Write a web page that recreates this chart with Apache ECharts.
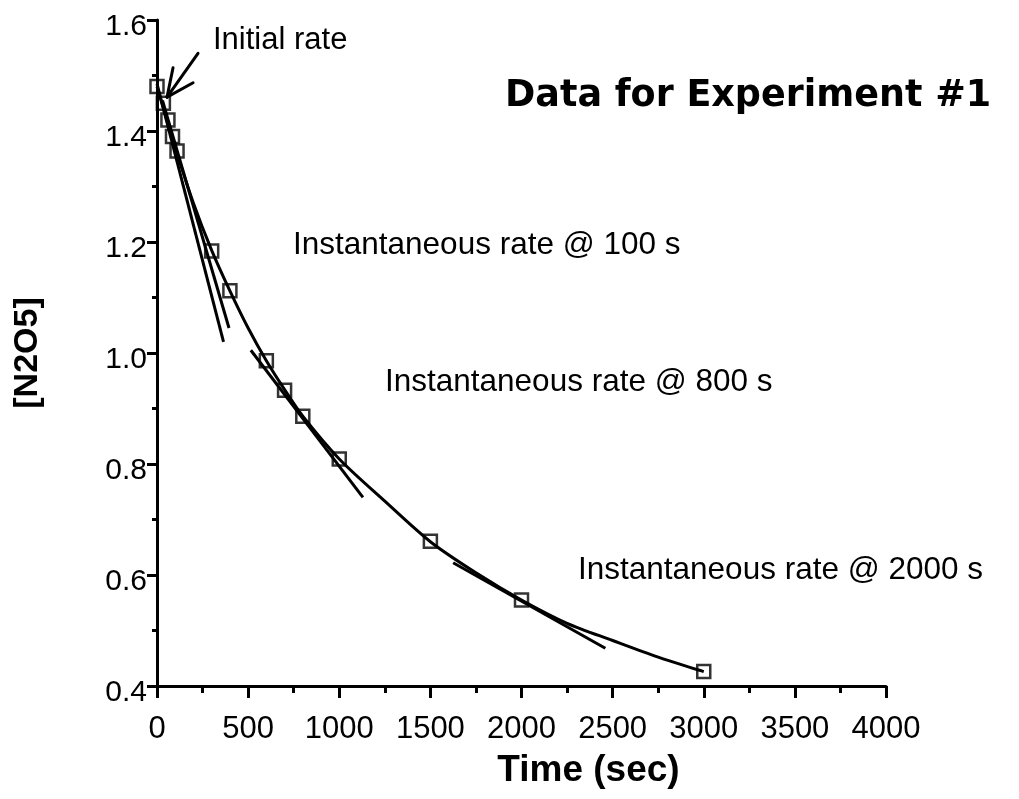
<!DOCTYPE html>
<html>
<head>
<meta charset="utf-8">
<script src="https://cdn.jsdelivr.net/npm/echarts@6/dist/echarts.min.js"></script>
<style>
  html, body { margin: 0; padding: 0; background: #fff; }
  #chart { width: 1019px; height: 799px; }
</style>
</head>
<body>
<div id="chart"></div>
<script>
const mychart = echarts.init(document.getElementById('chart'))

// measured points (time s, [N2O5])
var times = [0, 35, 60, 85, 110, 300, 400, 600, 700, 800, 1000, 1500, 2000, 3000]
var conc = [1.48, 1.45, 1.42, 1.39, 1.364, 1.184, 1.112, 0.986, 0.933, 0.886, 0.809, 0.661, 0.555, 0.426]

// fitted curve
var curveTimes = [0, 100, 200, 300, 400, 500, 600, 700, 800, 1000, 1250, 1500, 1750, 2000, 2250, 2500, 2750, 3000]
var curveConc = [1.48, 1.37, 1.27, 1.185, 1.112, 1.045, 0.986, 0.934, 0.886, 0.809, 0.733, 0.66, 0.604, 0.555, 0.513, 0.482, 0.452, 0.426]

// tangent lines [[t0, c0], [t1, c1]]
var tangentInitial = [[0, 1.485], [365, 1.02]]
var tangent100 = [[30, 1.455], [395, 1.045]]
var tangent800 = [[515, 1.005], [1130, 0.74]]
var tangent2000 = [[1625, 0.622], [2460, 0.468]]

// arrow pointing at the initial rate: tail, tip, and the two barb ends
var arrowTail = [225, 1.54]
var arrowTip = [55, 1.461]
var arrowBarbA = [88, 1.514]
var arrowBarbB = [198, 1.487]

var font = '"Liberation Sans", Arial, Helvetica, sans-serif'

function pairs(xs, ys) {
    var res = []
    for (var i = 0; i < xs.length; i++) res.push([xs[i], ys[i]])
    return res
}

function tangentSeries(d) {
    return {
        type: 'line',
        data: d,
        showSymbol: false,
        symbol: 'none',
        lineStyle: { color: '#000', width: 3 },
        silent: true,
        z: 3
    }
}

mychart.setOption({
    animation: false,
    backgroundColor: '#fff',
    grid: { left: 157, top: 20, right: 133, bottom: 113, containLabel: false, outerBoundsMode: 'none' },
    xAxis: {
        type: 'value',
        min: 0,
        max: 4000,
        interval: 500,
        name: 'Time (sec)',
        nameLocation: 'middle',
        nameGap: 66,
        nameTextStyle: {
            fontFamily: font, fontWeight: 'bold', fontSize: 37, color: '#000',
            padding: [0, 0, 0, 134]
        },
        axisLine: { lineStyle: { color: '#000', width: 3 } },
        axisTick: { length: 12, lineStyle: { color: '#000', width: 3 } },
        minorTick: { show: true, splitNumber: 2, length: 7, lineStyle: { color: '#000', width: 3 } },
        axisLabel: {
            fontFamily: font, fontSize: 31, color: '#000', margin: 28,
            formatter: function (v) { return String(v) }
        },
        splitLine: { show: false }
    },
    yAxis: {
        type: 'value',
        min: 0.4,
        max: 1.6,
        interval: 0.2,
        name: '[N2O5]',
        nameLocation: 'middle',
        nameRotate: 90,
        nameGap: 112,
        nameTextStyle: { fontFamily: font, fontWeight: 'bold', fontSize: 34, color: '#000' },
        axisLine: { lineStyle: { color: '#000', width: 3 } },
        axisTick: { length: 10, lineStyle: { color: '#000', width: 3 } },
        minorTick: { show: true, splitNumber: 2, length: 5, lineStyle: { color: '#000', width: 3 } },
        axisLabel: {
            fontFamily: font, fontSize: 30, color: '#000', margin: 10,
            verticalAlign: 'top', lineHeight: 14,
            formatter: function (v) { return v.toFixed(1) }
        },
        splitLine: { show: false }
    },
    graphic: [
        { type: 'text', x: 505, y: 97, style: { text: 'Data for Experiment #1', font: 'bold 36.5px "DejaVu Sans", sans-serif', fill: '#000', verticalAlign: 'middle' } },
        { type: 'text', x: 213, y: 40, style: { text: 'Initial rate', font: '31px ' + font, fill: '#000', verticalAlign: 'middle' } },
        { type: 'text', x: 293, y: 245, style: { text: 'Instantaneous rate @ 100 s', font: '31.5px ' + font, fill: '#000', verticalAlign: 'middle' } },
        { type: 'text', x: 385, y: 382, style: { text: 'Instantaneous rate @ 800 s', font: '31.5px ' + font, fill: '#000', verticalAlign: 'middle' } },
        { type: 'text', x: 578, y: 570, style: { text: 'Instantaneous rate @ 2000 s', font: '31.5px ' + font, fill: '#000', verticalAlign: 'middle' } }
    ],
    series: [
        {
            name: 'fit',
            type: 'line',
            data: pairs(curveTimes, curveConc),
            smooth: 0.3,
            showSymbol: false,
            symbol: 'none',
            lineStyle: { color: '#000', width: 3 },
            silent: true,
            z: 2,
            markLine: {
                silent: true,
                symbol: ['none', 'none'],
                label: { show: false },
                lineStyle: { color: '#000', width: 3, type: 'solid', cap: 'round' },
                data: [
                    [{ coord: arrowTail }, { coord: arrowTip }],
                    [{ coord: arrowBarbA }, { coord: arrowTip }],
                    [{ coord: arrowBarbB }, { coord: arrowTip }]
                ]
            }
        },
        tangentSeries(tangentInitial),
        tangentSeries(tangent100),
        tangentSeries(tangent800),
        tangentSeries(tangent2000),
        {
            name: 'data',
            type: 'scatter',
            data: pairs(times, conc),
            symbol: 'rect',
            symbolSize: 13,
            itemStyle: { color: 'rgba(0,0,0,0)', borderColor: '#000', borderWidth: 2.5 },
            z: 5
        }
    ]
})
</script>
</body>
</html>
